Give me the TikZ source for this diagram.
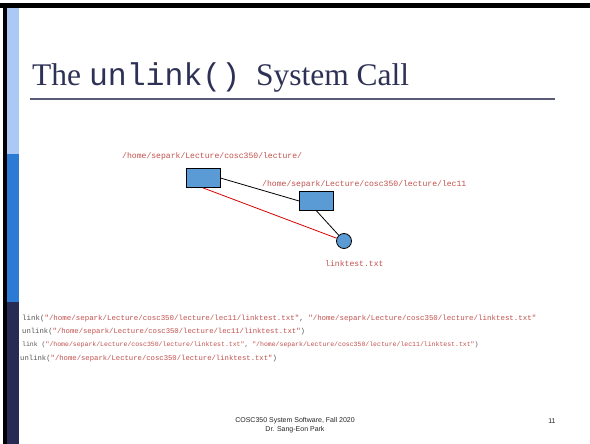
\documentclass[tikz,border=0pt]{standalone}
\usepackage{fontspec}
\setmainfont{Liberation Serif}
\setsansfont{Liberation Sans}
\setmonofont{Liberation Mono}
\definecolor{barlight}{HTML}{ABC9F4}
\definecolor{barmid}{HTML}{2B7BD4}
\definecolor{bardark}{HTML}{272A52}
\definecolor{titlecol}{HTML}{2E3156}
\definecolor{pathred}{HTML}{C0504D}
\definecolor{codegray}{HTML}{555555}
\definecolor{boxfill}{HTML}{5B9BD5}
\newcommand{\pth}[1]{\textcolor{pathred}{"#1"}}

\begin{document}
\begin{tikzpicture}[x=1pt,y=-1pt,
  dirbox/.style={draw, fill=boxfill, line width=0.8pt, minimum width=34pt, minimum height=19pt},
  pathlabel/.style={anchor=base west, inner sep=0, text=pathred, font=\ttfamily\fontsize{8.1}{9}\selectfont},
  codeline/.style={anchor=base west, inner sep=0, text=codegray}]
\useasboundingbox (0,0) rectangle (590,444);
\fill[white] (0,0) rectangle (590,444);
% slide frame and side bar
\fill[black] (0,3) rectangle (590,8);
\fill[black] (3,3) rectangle (7,444);
\fill[barlight] (7,8) rectangle (19,154);
\fill[barmid] (7,154) rectangle (19,302);
\fill[bardark] (7,302) rectangle (19,444);
% title
\node (title)[anchor=base west, inner sep=0, text=titlecol, font=\fontsize{31.5}{33}\selectfont] at (32,86) {The \texttt{unlink()}\ \ System Call};
\draw[titlecol!80, line width=1.3pt] (30,99) -- (555,99);
% directory tree
\node (dir)[dirbox] at (203,178) {};
\node (sub)[dirbox] at (316.5,201) {};
\node (file)[draw, circle, fill=boxfill, line width=0.8pt, minimum size=15pt, inner sep=0] at (344,241) {};
\node (dirname)[pathlabel] at (122,158) {/home/separk/Lecture/cosc350/lecture/};
\node (subname)[pathlabel] at (262,186) {/home/separk/Lecture/cosc350/lecture/lec11};
\node (filename)[pathlabel] at (325,266) {linktest.txt};
\draw[line width=0.8pt] (dir.east) -- (sub.west);
\draw[line width=0.8pt] (sub.south) -- (file);
\draw[red!85!black, line width=0.8pt] (dir.south) -- (file);
% system calls
\node (call1)[codeline, font=\ttfamily\fontsize{7.45}{8}\selectfont] at (22,320) {link(\pth{/home/separk/Lecture/cosc350/lecture/lec11/linktest.txt}, \pth{/home/separk/Lecture/cosc350/lecture/linktest.txt}};
\node (call2)[codeline, font=\ttfamily\fontsize{7.25}{8}\selectfont] at (22,333) {unlink(\pth{/home/separk/Lecture/cosc350/lecture/lec11/linktest.txt})};
\node (call3)[codeline, font=\ttfamily\fontsize{6.5}{7}\selectfont] at (22,346) {link (\pth{/home/separk/Lecture/cosc350/lecture/linktest.txt}, \pth{/home/separk/Lecture/cosc350/lecture/lec11/linktest.txt})};
\node (call4)[codeline, font=\ttfamily\fontsize{7.25}{8}\selectfont] at (20,360) {unlink(\pth{/home/separk/Lecture/cosc350/lecture/linktest.txt})};
% footer
\node (footer)[align=center, inner sep=0, text=black!85, font=\sffamily\fontsize{7}{8.5}\selectfont] at (295,425) {COSC350 System Software, Fall 2020\\Dr. Sang-Eon Park};
\node (page)[inner sep=0, text=black!85, font=\sffamily\fontsize{7}{8.5}\selectfont] at (552,421) {11};
\end{tikzpicture}
\end{document}
